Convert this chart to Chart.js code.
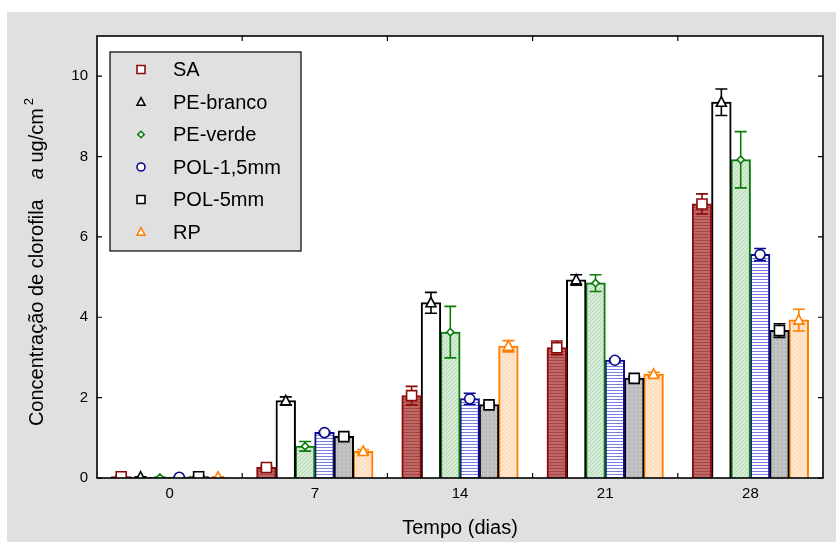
<!DOCTYPE html>
<html><head><meta charset="utf-8">
<title>Concentração de clorofila a</title>
<script src="https://cdn.jsdelivr.net/npm/chart.js@4.4.7/dist/chart.umd.min.js"></script>
<style>
html,body{margin:0;padding:0;background:#fff}
canvas{display:block}
</style>
</head><body>
<canvas id="chart" width="836" height="546"></canvas>
<script>
'use strict';

// Tempo (dias)
var DIAS = ['0', '7', '14', '21', '28'];

// médias (ug/cm2) e desvio padrão por tratamento
var SA        = [0.03, 0.26, 2.05, 3.24, 6.82];
var SA_DP     = [0.01, 0.04, 0.23, 0.17, 0.25];
var PE_BRANCO = [0.02, 1.92, 4.36, 4.93, 9.35];
var PE_BRANCO_DP = [0.01, 0.10, 0.26, 0.13, 0.33];
var PE_VERDE  = [0.01, 0.79, 3.63, 4.85, 7.92];
var PE_VERDE_DP = [0.01, 0.12, 0.64, 0.21, 0.70];
var POL15     = [0.02, 1.13, 1.97, 2.93, 5.56];
var POL15_DP  = [0.01, 0.04, 0.14, 0.04, 0.15];
var POL5      = [0.03, 1.03, 1.82, 2.48, 3.67];
var POL5_DP   = [0.01, 0.04, 0.04, 0.04, 0.17];
var RP        = [0.02, 0.66, 3.28, 2.58, 3.93];
var RP_DP     = [0.01, 0.05, 0.14, 0.05, 0.27];

var Y_TICKS = [0, 2, 4, 6, 8, 10];

var FONT = '"Liberation Sans", Arial, sans-serif';

// texturas das barras
function textura(fundo, traco, tipo) {
  var c = document.createElement('canvas');
  var g = c.getContext('2d');
  c.width = 4; c.height = 3;
  if (tipo === 'diag' || tipo === 'xadrez') { c.width = 4; c.height = 4; }
  g.fillStyle = fundo;
  g.fillRect(0, 0, c.width, c.height);
  g.fillStyle = traco;
  if (tipo === 'horiz') {
    g.fillRect(0, 0, c.width, 1);
  } else if (tipo === 'diag') {
    for (var i = 0; i < 4; i++) g.fillRect(i, 3 - i, 1, 1);
  } else if (tipo === 'xadrez') {
    g.fillRect(0, 0, 1, 1); g.fillRect(2, 2, 1, 1);
    g.fillRect(2, 0, 1, 1); g.fillRect(1, 3, 1, 1);
  }
  return document.getElementById('chart').getContext('2d').createPattern(c, 'repeat');
}

var SERIES = [
  {label: 'SA', data: SA, dp: SA_DP, cor: '#8b0a0a', fill: textura('#c06868', '#a54646', 'horiz'), marca: 'quadrado'},
  {label: 'PE-branco', data: PE_BRANCO, dp: PE_BRANCO_DP, cor: '#000000', fill: '#ffffff', marca: 'triangulo'},
  {label: 'PE-verde', data: PE_VERDE, dp: PE_VERDE_DP, cor: '#0a7d0a', fill: textura('#d5ebd5', '#b6d8b6', 'diag'), marca: 'losango'},
  {label: 'POL-1,5mm', data: POL15, dp: POL15_DP, cor: '#0a0a8c', fill: textura('#ffffff', '#7c7ce6', 'horiz'), marca: 'circulo'},
  {label: 'POL-5mm', data: POL5, dp: POL5_DP, cor: '#000000', fill: textura('#c6c6c6', '#aaaaaa', 'xadrez'), marca: 'quadrado'},
  {label: 'RP', data: RP, dp: RP_DP, cor: '#ff8000', fill: textura('#ffe6cf', '#ffd4ab', 'diag'), marca: 'triangulo'}
];

function desenhaMarca(ctx, tipo, x, y, s, cor) {
  ctx.save();
  ctx.strokeStyle = cor;
  ctx.fillStyle = '#ffffff';
  ctx.lineWidth = 1.6;
  ctx.beginPath();
  if (tipo === 'quadrado') {
    ctx.rect(x - s / 2, y - s / 2, s, s);
  } else if (tipo === 'triangulo') {
    ctx.moveTo(x, y - s * 0.55);
    ctx.lineTo(x + s * 0.5, y + s * 0.4);
    ctx.lineTo(x - s * 0.5, y + s * 0.4);
    ctx.closePath();
  } else if (tipo === 'losango') {
    var d = s * 0.4;
    ctx.moveTo(x, y - d); ctx.lineTo(x + d, y); ctx.lineTo(x, y + d); ctx.lineTo(x - d, y);
    ctx.closePath();
  } else {
    ctx.arc(x, y, s / 2, 0, Math.PI * 2);
  }
  ctx.fill();
  ctx.stroke();
  ctx.restore();
}

// fundo cinza, moldura, marcas dos eixos, barras de erro, legenda e títulos
var moldura = {
  id: 'moldura',
  beforeDraw: function(chart) {
    var ctx = chart.ctx, a = chart.chartArea;
    ctx.save();
    ctx.fillStyle = '#ffffff';
    ctx.fillRect(0, 0, chart.width, chart.height);
    ctx.fillStyle = '#e0e0e0';
    ctx.fillRect(7, 12, chart.width - 7, 530);
    ctx.fillStyle = '#ffffff';
    ctx.fillRect(a.left, a.top, a.right - a.left, a.bottom - a.top);
    ctx.restore();
  },
  afterDatasetsDraw: function(chart) {
    var ctx = chart.ctx, a = chart.chartArea;
    ctx.save();
    ctx.beginPath();
    ctx.rect(a.left, a.top, a.right - a.left, a.bottom - a.top);
    ctx.clip();
    var ys = chart.scales.y;
    chart.data.datasets.forEach(function(ds, di) {
      var meta = chart.getDatasetMeta(di);
      var s = SERIES[di];
      meta.data.forEach(function(bar, i) {
        var v = ds.data[i], e = s.dp[i];
        var yTop = ys.getPixelForValue(v + e), yBot = ys.getPixelForValue(v - e);
        ctx.strokeStyle = s.cor;
        ctx.lineWidth = 1.6;
        ctx.beginPath();
        ctx.moveTo(bar.x, yTop); ctx.lineTo(bar.x, yBot);
        ctx.moveTo(bar.x - 6, yTop); ctx.lineTo(bar.x + 6, yTop);
        ctx.moveTo(bar.x - 6, yBot); ctx.lineTo(bar.x + 6, yBot);
        ctx.stroke();
        desenhaMarca(ctx, s.marca, bar.x, bar.y, s.marca === 'losango' ? 9 : 10, s.cor);
      });
    });
    ctx.restore();

    // moldura e marcas internas
    ctx.save();
    ctx.strokeStyle = '#000';
    ctx.lineWidth = 1.6;
    ctx.strokeRect(a.left, a.top, a.right - a.left, a.bottom - a.top);
    ctx.lineWidth = 1.2;
    ctx.beginPath();
    Y_TICKS.forEach(function(t) {
      var y = ys.getPixelForValue(t);
      ctx.moveTo(a.left, y); ctx.lineTo(a.left + 5, y);
      ctx.moveTo(a.right, y); ctx.lineTo(a.right - 5, y);
    });
    var xs = chart.scales.x;
    for (var i = 1; i < DIAS.length; i++) {
      var x = (xs.getPixelForValue(i - 1) + xs.getPixelForValue(i)) / 2;
      ctx.moveTo(x, a.bottom); ctx.lineTo(x, a.bottom - 5);
      ctx.moveTo(x, a.top); ctx.lineTo(x, a.top + 5);
    }
    ctx.stroke();
    ctx.restore();
  },
  afterDraw: function(chart) {
    var ctx = chart.ctx, a = chart.chartArea;
    ctx.save();
    // legenda
    var lx = 110, ly = 52, lw = 191, lh = 199;
    ctx.fillStyle = '#e0e0e0';
    ctx.fillRect(lx, ly, lw, lh);
    ctx.strokeStyle = '#000';
    ctx.lineWidth = 1.2;
    ctx.strokeRect(lx, ly, lw, lh);
    ctx.font = '20px ' + FONT;
    ctx.textBaseline = 'middle';
    ctx.fillStyle = '#000';
    SERIES.forEach(function(s, i) {
      var y = 69.5 + i * 32.5;
      desenhaMarca(ctx, s.marca, 141, y, 8, s.cor);
      ctx.fillStyle = '#000';
      ctx.fillText(s.label, 173, y + 1);
    });

    // título do eixo x
    ctx.textAlign = 'center';
    ctx.fillText('Tempo (dias)', (a.left + a.right) / 2, 528);

    // título do eixo y
    ctx.translate(37, 0);
    ctx.rotate(-Math.PI / 2);
    var p1 = 'Concentração de clorofila', gap = 20, p2 = 'a', p3 = ' ug/cm', p4 = '2';
    ctx.font = '20px ' + FONT;
    var w1 = ctx.measureText(p1).width, w3 = ctx.measureText(p3).width;
    ctx.font = 'italic 20px ' + FONT;
    var w2 = ctx.measureText(p2).width;
    ctx.font = '13px ' + FONT;
    var w4 = ctx.measureText(p4).width;
    var total = w1 + gap + w2 + w3 + 3 + w4;
    var x0 = -262 - total / 2;
    ctx.textAlign = 'left';
    ctx.textBaseline = 'middle';
    ctx.font = '20px ' + FONT;
    ctx.fillText(p1, x0, 0);
    ctx.font = 'italic 20px ' + FONT;
    ctx.fillText(p2, x0 + w1 + gap, 0);
    ctx.font = '20px ' + FONT;
    ctx.fillText(p3, x0 + w1 + gap + w2, 0);
    ctx.font = '13px ' + FONT;
    ctx.fillText(p4, x0 + w1 + gap + w2 + w3 + 3, -8);
    ctx.restore();
  }
};

var datasets = SERIES.map(function(s) {
  return {
    label: s.label,
    data: s.data,
    backgroundColor: s.fill,
    borderColor: s.cor,
    borderWidth: 2,
    borderSkipped: 'bottom',
    categoryPercentage: 0.8,
    barPercentage: 1.0,
    inflateAmount: 0.5
  };
});

new Chart(document.getElementById('chart'), {
  type: 'bar',
  data: {labels: DIAS, datasets: datasets},
  plugins: [moldura],
  options: {
    responsive: false,
    devicePixelRatio: 1,
    animation: false,
    layout: {padding: {top: 36, right: 13, left: 0, bottom: 0}},
    plugins: {legend: {display: false}, tooltip: {enabled: false}},
    scales: {
      x: {
        grid: {display: false, drawTicks: false},
        border: {display: false},
        ticks: {color: '#000', font: {family: FONT, size: 15}, padding: 7},
        afterFit: function(sc) { sc.height = 68; }
      },
      y: {
        min: 0, max: 11,
        grid: {display: false, drawTicks: false},
        border: {display: false},
        ticks: {
          stepSize: 2, includeBounds: false, color: '#000',
          font: {family: FONT, size: 15}, padding: 9
        },
        afterFit: function(sc) { sc.width = 97; }
      }
    }
  }
});
</script>
</body></html>
